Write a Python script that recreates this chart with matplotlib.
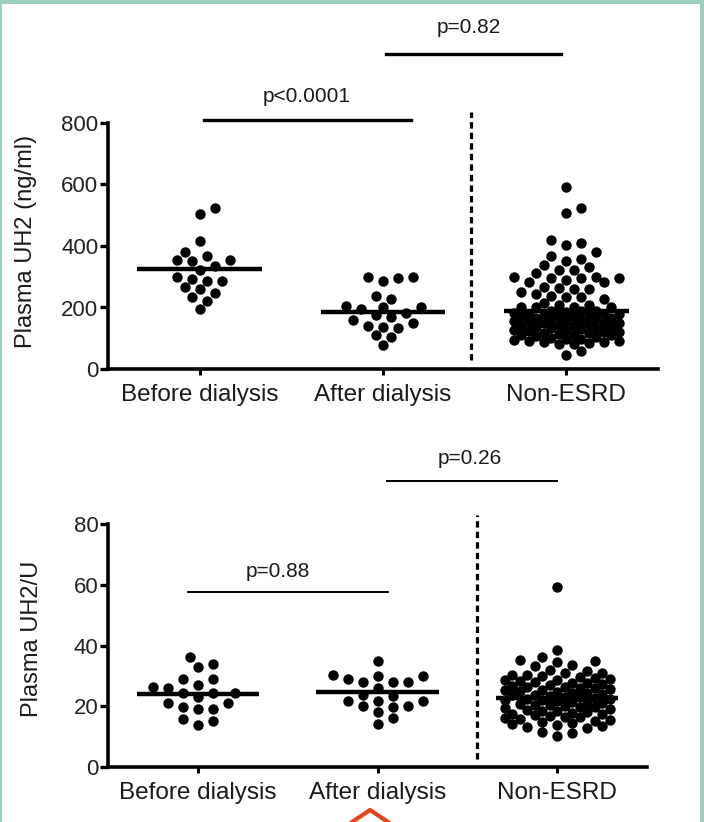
import numpy as np
import matplotlib
matplotlib.use('Agg')
import matplotlib.pyplot as plt
from matplotlib.patches import Rectangle
from matplotlib.lines import Line2D

plt.rcParams['font.family'] = ['Liberation Sans', 'DejaVu Sans']

# ---- data ----
groups = ['Before dialysis', 'After dialysis', 'Non-ESRD']

uh2_before = [522, 504, 415, 380, 367, 354, 354, 350, 335, 322, 298, 292,
              287, 285, 266, 259, 246, 233, 222, 194]
uh2_after = [299, 299, 297, 287, 236, 229, 205, 201, 201, 196, 182, 175,
             168, 158, 149, 140, 136, 132, 110, 105, 78]
uh2_non = [591, 525, 506, 418, 410, 402, 381, 367, 359, 351, 338, 333,
           323, 322, 311, 300, 300, 296, 296, 296, 289, 282, 282, 268,
           262, 261, 259, 249, 244, 238, 233, 233, 227, 214, 208, 208,
           203, 203, 203, 203,
           190, 187, 187, 184, 182, 180, 180, 178, 175, 173, 171, 170,
           170, 167, 165, 163, 160, 158, 157, 155, 152, 150, 150, 148,
           146, 143, 141, 140, 137, 135, 133, 132, 131, 128, 126, 124,
           121, 120, 118, 116, 113, 112, 110, 109, 106, 104, 101, 99,
           97, 95, 92, 90, 89, 87, 85, 82, 80, 57, 46]
uh2_means = [326, 184, 189]

ratio_before = [36.1, 33.9, 33.0, 29.1, 28.9, 27.0, 26.2, 25.9, 24.3, 24.3,
                24.3, 22.9, 21.2, 21.2, 19.9, 19.0, 19.0, 15.9, 15.3, 13.9]
ratio_after = [34.8, 30.2, 30.0, 30.0, 29.0, 28.0, 28.0, 28.0, 26.1, 23.7,
               23.4, 21.8, 21.8, 21.8, 20.1, 20.1, 19.9, 18.0, 16.0, 14.0]
ratio_non = [59.4, 38.5, 36.3, 35.2, 34.9, 34.6, 33.5, 33.1,
             31.8, 31.5, 31.0, 30.9, 30.4, 30.2, 29.9, 29.5, 29.4, 29.0,
             28.8, 28.5, 28.2, 28.1, 27.7, 27.6, 27.2, 27.0, 26.8, 26.5,
             26.4, 26.1, 25.9, 25.7, 25.3, 25.2, 24.9, 24.8, 24.5, 24.3,
             24.1, 23.8, 23.7, 23.4, 23.2, 23.0, 22.7, 22.5, 22.3, 22.1,
             21.9, 21.6, 21.4, 21.2, 20.9, 20.8, 20.5, 20.3, 20.0, 19.8,
             19.6, 19.3, 19.1, 18.9, 18.6, 18.4, 18.1, 17.9, 17.6, 17.4,
             17.1, 16.9, 16.6, 16.3, 16.1, 15.8, 15.5, 15.2, 14.9, 14.6,
             14.2, 13.9, 13.5, 13.1, 12.7, 11.4, 11.1, 10.3]
ratio_means = [24.0, 24.6, 22.6]

W, H = 704, 822
fig = plt.figure(figsize=(W / 100, H / 100), dpi=100)
fig.patch.set_facecolor('white')


def px_axes(left, top, right, bottom):
    return fig.add_axes([left / W, 1 - bottom / H, (right - left) / W, (bottom - top) / H])


def swarm(vals, px_per_val, dmin=10.5, step=7.5, nmax=7):
    # simple beeswarm: offsets in pixels
    ys = np.asarray(vals, float) * px_per_val
    cands = [0.0]
    for k in range(1, nmax + 1):
        cands += [k * step, -k * step]
    out = np.zeros(len(ys))
    px, py = [], []
    for i in np.argsort(ys):
        best, bestd = 0.0, -1.0
        for c in cands:
            if px:
                d = np.min(np.hypot(np.array(px) - c, np.array(py) - ys[i]))
            else:
                d = np.inf
            if d >= dmin:
                best = c
                break
            if d > bestd:
                best, bestd = c, d
        out[i] = best
        px.append(best)
        py.append(ys[i])
    return out


def panel(ax, data, means, ymax, ypx, xpx):
    ax.set_xlim(-0.5, 2.5)
    ax.set_ylim(0, ymax)
    ppv = ypx / ymax
    ppu = xpx / 3.0
    for i, vals in enumerate(data):
        off = swarm(vals, ppv) / ppu
        ax.scatter(i + off, vals, s=56, c='black', linewidths=0, zorder=3, clip_on=False)
    ax.hlines(means, np.arange(3) - 0.34, np.arange(3) + 0.34, color='black', lw=3.2, zorder=4)
    for s in ['top', 'right']:
        ax.spines[s].set_visible(False)
    for s in ['left', 'bottom']:
        ax.spines[s].set_linewidth(2.6)
    ax.spines['left'].set_bounds(0, ymax)
    ax.set_yticks(np.linspace(0, ymax, 5))
    ax.set_xticks(range(3))
    ax.set_xticklabels(groups, fontsize=17.5, color='#1a1a1a')
    ax.tick_params(axis='y', length=6, width=2.4, pad=1, labelsize=16, labelcolor='#222222')
    ax.tick_params(axis='x', length=4, width=2.2, pad=7)


ax1 = px_axes(108, 123, 658, 369)
panel(ax1, [uh2_before, uh2_after, uh2_non], uh2_means, 800, 246, 550)
ax1.plot([1.478, 1.478], [30, 835], color='black', lw=2.3, ls=(0, (2.0, 1.3)), clip_on=False)
ax1.plot([0.022, 1.151], [810, 810], color='black', lw=2.4, clip_on=False)
ax1.text(0.584, 885, 'p<0.0001', ha='center', va='center', fontsize=15, color='#1a1a1a')
ax1.plot([1.015, 1.969], [1024, 1024], color='black', lw=2.4, clip_on=False)
ax1.text(1.468, 1109, 'p=0.82', ha='center', va='center', fontsize=15, color='#1a1a1a')

ax2 = px_axes(108, 524, 647, 767)
panel(ax2, [ratio_before, ratio_after, ratio_non], ratio_means, 80, 243, 539)
ax2.plot([1.554, 1.554], [2.6, 83], color='black', lw=2.3, ls=(0, (2.0, 1.3)), clip_on=False)
ax2.plot([-0.056, 1.058], [57.6, 57.6], color='black', lw=1.4, clip_on=False)
ax2.text(0.446, 64.5, 'p=0.88', ha='center', va='center', fontsize=15, color='#1a1a1a')
ax2.plot([1.053, 2.0], [94.2, 94.2], color='black', lw=1.4, clip_on=False)
ax2.text(1.515, 101.7, 'p=0.26', ha='center', va='center', fontsize=15, color='#1a1a1a')

fig.text(26 / W, 1 - 241 / H, 'Plasma UH2 (ng/ml)', rotation=90, ha='center', va='center',
         fontsize=17, color='#1a1a1a')
fig.text(32 / W, 1 - 639 / H, 'Plasma UH2/U', rotation=90, ha='center', va='center',
         fontsize=17, color='#1a1a1a')

# page frame
green = '#9dd0ba'
fig.add_artist(Rectangle((0, 1 - 4 / H), 1, 4 / H, transform=fig.transFigure, color=green, lw=0))
fig.add_artist(Rectangle((0, 0), 2 / W, 1, transform=fig.transFigure, color=green, lw=0))
fig.add_artist(Rectangle((700 / W, 0), 4 / W, 1, transform=fig.transFigure, color=green, lw=0))
fig.add_artist(Line2D([352 / W, 370 / W, 388 / W], [0, 12 / H, 0], transform=fig.transFigure,
                      color='#e5431a', lw=3))

fig.savefig('out.png', dpi=100)
